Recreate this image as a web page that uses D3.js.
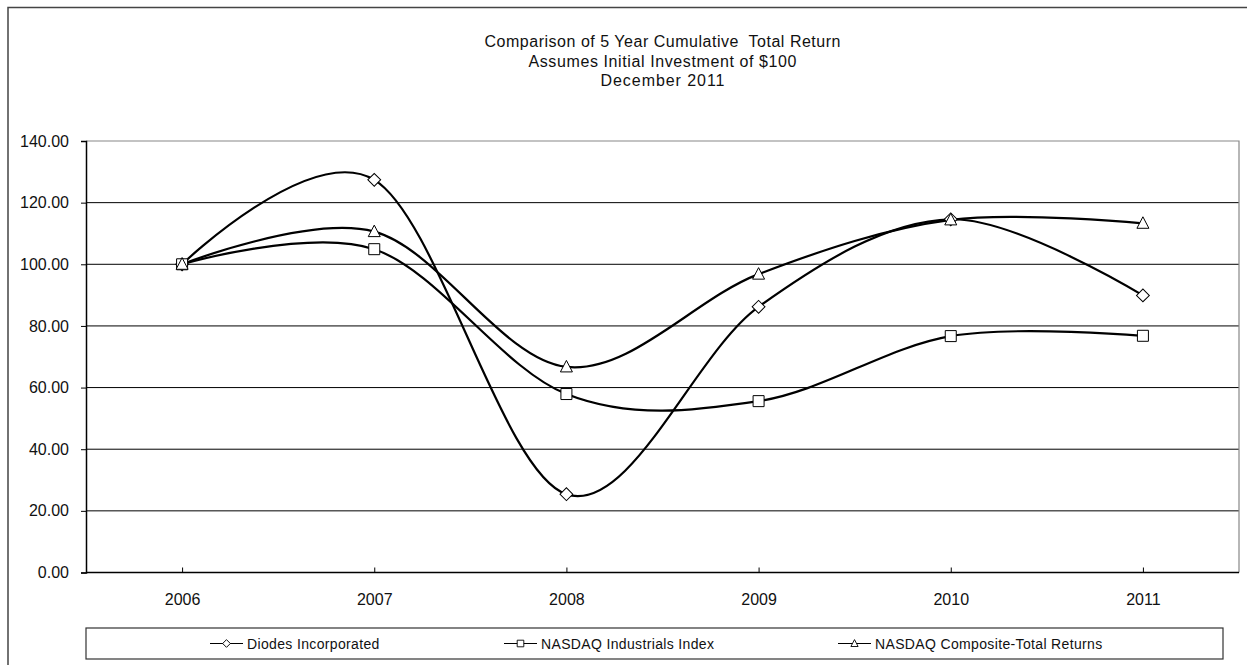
<!DOCTYPE html>
<html>
<head>
<meta charset="utf-8">
<script src="https://cdn.jsdelivr.net/npm/d3@7"></script>
<style>
  body { margin: 0; background: #fff; }
  svg { display: block; font-family: "Liberation Sans", Arial, sans-serif; }
</style>
</head>
<body>
<div id="chart-area"></div>
<script>
const SVG_WIDTH = 1247
const SVG_HEIGHT = 665
const PLOT = { left: 86, right: 1239, top: 141, bottom: 572.5 }

const years = ["2006", "2007", "2008", "2009", "2010", "2011"]
const diodes = [100, 127.4, 25.4, 86.2, 114.6, 89.9]
const industrials = [100, 104.9, 57.9, 55.6, 76.7, 76.8]
const composite = [100, 110.6, 66.7, 96.8, 114.4, 113.3]
const yTicks = [0, 20, 40, 60, 80, 100, 120, 140]
const titleLines = [
  "Comparison of 5 Year Cumulative  Total Return",
  "Assumes Initial Investment of $100",
  "December 2011"
]
const titleWidths = [356, 268, 124] // rendered widths in the original

const series = [
  { name: "Diodes Incorporated", values: diodes, marker: "diamond" },
  { name: "NASDAQ Industrials Index", values: industrials, marker: "square" },
  { name: "NASDAQ Composite-Total Returns", values: composite, marker: "triangle" }
]

const svg = d3.select("#chart-area").append("svg")
  .attr("width", SVG_WIDTH)
  .attr("height", SVG_HEIGHT)

// outer chart border (runs off the right / bottom of the picture)
svg.append("rect")
  .attr("x", 8).attr("y", 7.5)
  .attr("width", 1270).attr("height", 700)
  .attr("fill", "none")
  .attr("stroke", "#444")
  .attr("stroke-width", 1.5)

const title = svg.append("g")
title.selectAll("text")
  .data(titleLines)
  .enter().append("text")
  .attr("x", (PLOT.left + PLOT.right) / 2)
  .attr("y", (d, i) => 47 + i * 19.5)
  .attr("text-anchor", "middle")
  .attr("font-size", "16px")
  .attr("fill", "#111")
  .style("white-space", "pre")
  .attr("textLength", (d, i) => titleWidths[i])
  .attr("lengthAdjust", "spacing")
  .text(d => d)

const x = d3.scalePoint()
  .domain(years)
  .range([PLOT.left, PLOT.right])
  .padding(0.5)

const y = d3.scaleLinear()
  .domain([0, 140])
  .range([PLOT.bottom, PLOT.top])

// gridlines
svg.append("g")
  .selectAll("line")
  .data(yTicks.filter(d => d > 0 && d < 140))
  .enter().append("line")
  .attr("x1", PLOT.left).attr("x2", PLOT.right)
  .attr("y1", d => y(d)).attr("y2", d => y(d))
  .attr("stroke", "#000")
  .attr("stroke-width", 1)

// plot border top + right (grey)
svg.append("path")
  .attr("d", `M${PLOT.left},${y(140)}H${PLOT.right}V${PLOT.bottom}`)
  .attr("fill", "none")
  .attr("stroke", "#888")
  .attr("stroke-width", 1.2)

const yAxis = d3.axisLeft(y)
  .tickValues(yTicks)
  .tickSize(5)
  .tickPadding(12)
  .tickFormat(d3.format(".2f"))
const gy = svg.append("g")
  .attr("transform", `translate(${PLOT.left},0)`)
  .call(yAxis)
gy.select(".domain").attr("stroke-width", 1.5)
gy.selectAll("text").attr("font-size", "16px").attr("fill", "#111")
  .attr("font-family", "Liberation Sans, Arial, sans-serif")

const xAxis = d3.axisBottom(x)
  .tickSize(-5)
  .tickPadding(21)
const gx = svg.append("g")
  .attr("transform", `translate(0,${PLOT.bottom})`)
  .call(xAxis)
gx.select(".domain").attr("d", `M${PLOT.left},0H${PLOT.right}`).attr("stroke-width", 1.5)
gx.selectAll("text").attr("font-size", "16px").attr("fill", "#111")
  .attr("font-family", "Liberation Sans, Arial, sans-serif")

function markerPath(type) {
  if (type === "square") return d3.symbol(d3.symbolSquare, 121)()
  if (type === "diamond") return d3.symbol(d3.symbolSquare, 82)()
  return "M0,-6.5L6,5L-6,5Z"
}
function markerRotate(type) {
  return type === "diamond" ? " rotate(45)" : ""
}

const line = d3.line()
  .x((d, i) => x(years[i]))
  .y(d => y(d))
  .curve(d3.curveCardinal.tension(0))

const gs = svg.append("g")
series.forEach(s => {
  gs.append("path")
    .attr("d", line(s.values))
    .attr("fill", "none")
    .attr("stroke", "#000")
    .attr("stroke-width", 2.2)
})
series.forEach(s => {
  gs.append("g").selectAll("path")
    .data(s.values)
    .enter().append("path")
    .attr("d", markerPath(s.marker))
    .attr("transform", (d, i) => `translate(${x(years[i])},${y(d)})` + markerRotate(s.marker))
    .attr("fill", "#fff")
    .attr("stroke", "#000")
    .attr("stroke-width", 1)
})

// legend
const legend = svg.append("g")
legend.append("rect")
  .attr("x", 86).attr("y", 628)
  .attr("width", 1137).attr("height", 31)
  .attr("fill", "#fff")
  .attr("stroke", "#333")
  .attr("stroke-width", 1.2)

const legendX = [210, 504, 838]
series.forEach((s, i) => {
  const lg = legend.append("g").attr("transform", `translate(${legendX[i]},643.5)`)
  lg.append("line")
    .attr("x1", 0).attr("x2", 33)
    .attr("stroke", "#000").attr("stroke-width", 1.2)
  lg.append("path")
    .attr("d", markerPath(s.marker))
    .attr("transform", `translate(16.5,0) scale(0.6)` + markerRotate(s.marker))
    .attr("fill", "#fff")
    .attr("stroke", "#000")
    .attr("stroke-width", 1.5)
  lg.append("text")
    .attr("x", 37)
    .attr("y", 5)
    .attr("font-size", "14px")
    .attr("letter-spacing", "0.35px")
    .attr("fill", "#111")
    .text(s.name)
})
</script>
</body>
</html>
